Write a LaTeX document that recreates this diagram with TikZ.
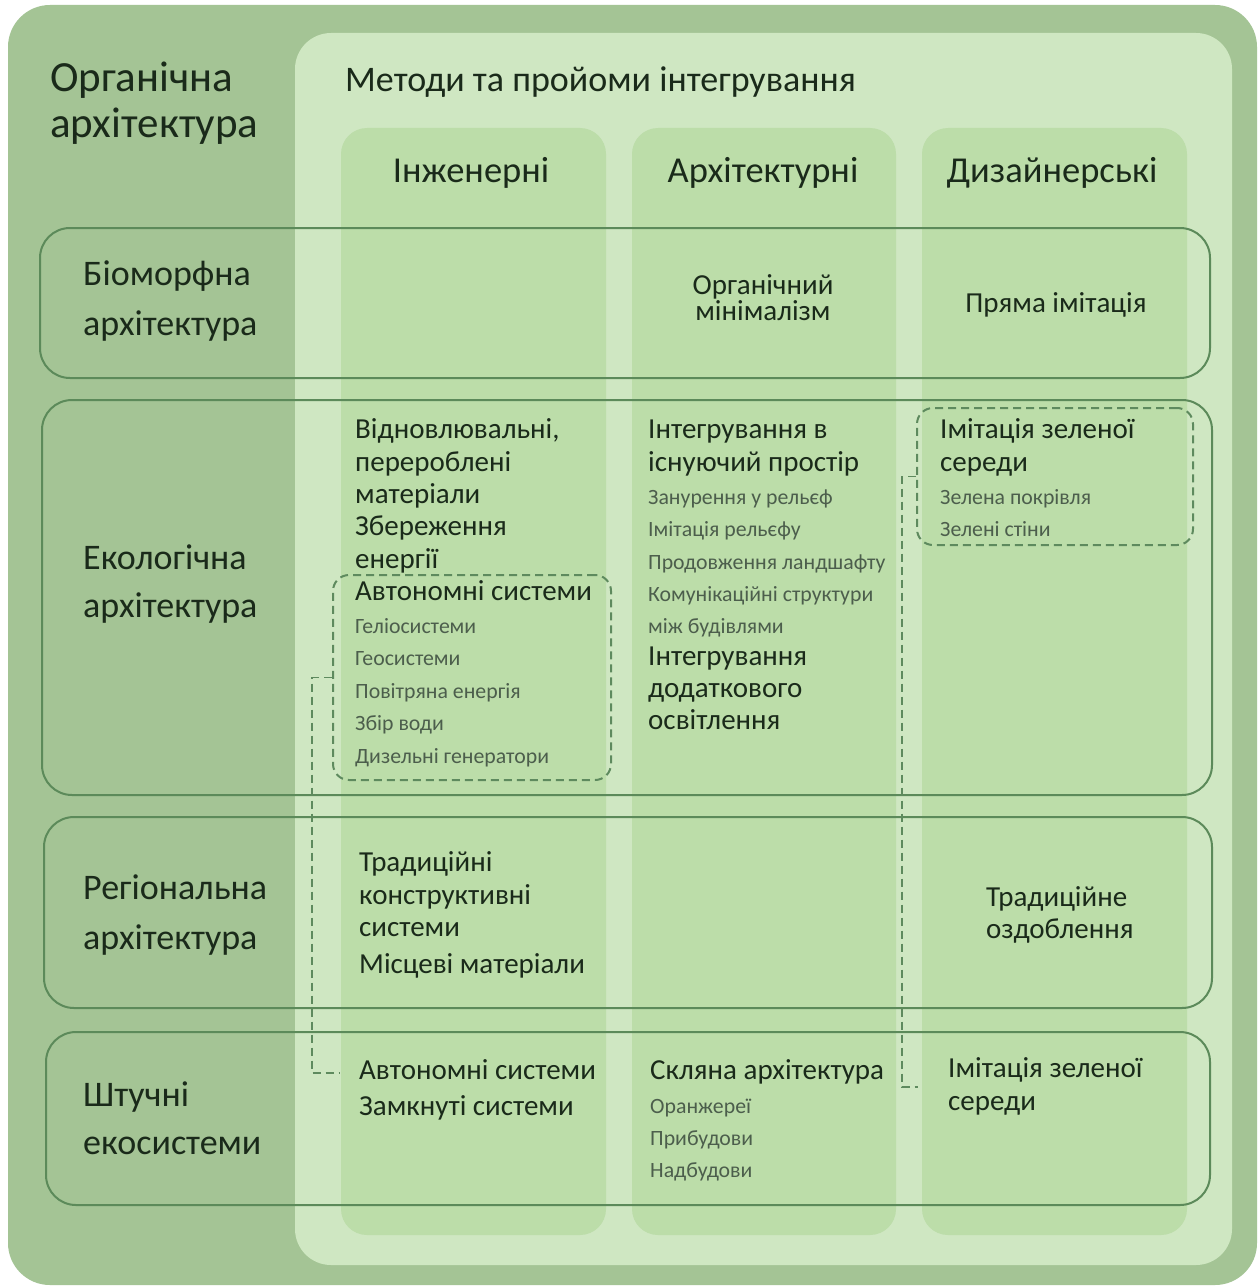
\documentclass[tikz,border=0pt]{standalone}
\usepackage{fontspec}
\setmainfont{Carlito}
\definecolor{outerg}{HTML}{A4C495}
\definecolor{innerg}{HTML}{CFE7C2}
\definecolor{colg}{HTML}{BCDDA9}
\definecolor{rowline}{HTML}{5C8A5A}
\definecolor{dashg}{HTML}{5E8A5E}
\definecolor{txt}{HTML}{1A2A1A}
\definecolor{sub}{HTML}{4C5E4C}
\tikzset{
  bigt/.style={font=\fontsize{29}{33}\selectfont, text=txt, anchor=base west, inner sep=0pt},
  smallt/.style={font=\fontsize{21.8}{25}\selectfont, text=sub, anchor=base west, inner sep=0pt},
  rowt/.style={font=\fontsize{36}{42}\selectfont, text=txt, anchor=base west, inner sep=0pt},
  headt/.style={font=\fontsize{36.5}{42}\selectfont, text=txt, anchor=base, inner sep=0pt},
  rowframe/.style={draw=rowline, line width=2pt, rounded corners=30pt},
  dbox/.style={draw=dashg, line width=2pt, dash pattern=on 8pt off 5pt, rounded corners=16pt, inner sep=0pt},
  conn/.style={draw=dashg, line width=1.8pt, dash pattern=on 8pt off 5pt},
  colbox/.style={fill=colg, rounded corners=26pt}
}
\begin{document}
\begin{tikzpicture}[x=1pt,y=-1pt]
\useasboundingbox (0,0) rectangle (1259,1287);
\fill[white] (0,0) rectangle (1259,1287);
% backgrounds
\fill[outerg, rounded corners=42pt] (8,5) rectangle (1257,1285);
\fill[innerg, rounded corners=36pt] (295,33) rectangle (1232,1265);
\fill[colbox] (341,128) rectangle (606,1235);
\fill[colbox] (632,128) rectangle (896,1235);
\fill[colbox] (922,128) rectangle (1187,1235);
% titles
\node[font=\fontsize{43}{50}\selectfont, text=txt, anchor=base west, inner sep=0pt] (t1) at (50,92) {Органічна};
\node[font=\fontsize{43}{50}\selectfont, text=txt, anchor=base west, inner sep=0pt] (t2) at (50,137) {архітектура};
\node[font=\fontsize{36}{42}\selectfont, text=txt, anchor=base west, inner sep=0pt] (t3) at (345,92) {Методи та пройоми інтегрування};
\node[headt] (h1) at (471,182) {Інженерні};
\node[headt] (h2) at (763,182) {Архітектурні};
\node[headt] (h3) at (1052,182) {Дизайнерські};
% row frames
\draw[rowframe] (40,228) rectangle (1210,378);
\draw[rowframe] (42,400) rectangle (1212,795);
\draw[rowframe] (44,817) rectangle (1212,1008);
\draw[rowframe] (46,1032) rectangle (1210,1205);
% row labels
\node[rowt] (r1a) at (83,285) {Біоморфна};
\node[rowt] (r1b) at (83,335) {архітектура};
\node[rowt] (r2a) at (83,569) {Екологічна};
\node[rowt] (r2b) at (83,617) {архітектура};
\node[rowt] (r3a) at (83,899) {Регіональна};
\node[rowt] (r3b) at (83,949) {архітектура};
\node[rowt] (r4a) at (83,1106) {Штучні};
\node[rowt] (r4b) at (83,1154) {екосистеми};
% row 1
\node[font=\fontsize{29}{22.5}\selectfont, text=txt, inner sep=0pt, align=center, anchor=base] (a1) at (763,320) {Органічний\\мінімалізм};
\node[bigt, anchor=base] (a3) at (1056,312) {Пряма імітація};
% dashed boxes
\node[dbox, minimum width=278pt, minimum height=205pt] (box1) at (472,677.5) {};
\node[dbox, minimum width=276pt, minimum height=137pt] (box2) at (1055,476.5) {};
% row 2 col 1
\node[bigt] (b1) at (355,438) {Відновлювальні,};
\node[bigt] (b2) at (355,471) {перероблені};
\node[bigt] (b3) at (355,503) {матеріали};
\node[bigt] (b4) at (355,535) {Збереження};
\node[bigt] (b5) at (355,568) {енергії};
\node[bigt] (b6) at (355,600) {Автономні системи};
\node[smallt] (b7) at (355,633) {Геліосистеми};
\node[smallt] (b8) at (355,665) {Геосистеми};
\node[smallt] (b9) at (355,698) {Повітряна енергія};
\node[smallt] (b10) at (355,730) {Збір води};
\node[smallt] (b11) at (355,763) {Дизельні генератори};
% row 2 col 2
\node[bigt] (c1) at (648,438) {Інтегрування в};
\node[bigt] (c2) at (648,471) {існуючий простір};
\node[smallt] (c3) at (648,504) {Занурення у рельєф};
\node[smallt] (c4) at (648,536) {Імітація рельєфу};
\node[smallt] (c5) at (648,569) {Продовження ландшафту};
\node[smallt] (c6) at (648,601) {Комунікаційні структури};
\node[smallt] (c7) at (648,633) {між будівлями};
\node[bigt] (c8) at (648,665) {Інтегрування};
\node[bigt] (c9) at (648,697) {додаткового};
\node[bigt] (c10) at (648,729) {освітлення};
% row 2 col 3
\node[bigt] (d1) at (940,438) {Імітація зеленої};
\node[bigt] (d2) at (940,471) {середи};
\node[smallt] (d3) at (940,504) {Зелена покрівля};
\node[smallt] (d4) at (940,536) {Зелені стіни};
% row 3
\node[bigt] (e1t) at (359,871) {Традиційні};
\node[bigt] (e2t) at (359,904) {конструктивні};
\node[bigt] (e3t) at (359,936) {системи};
\node[bigt] (e4t) at (359,973) {Місцеві матеріали};
\node[bigt] (f1) at (986,906) {Традиційне};
\node[bigt] (f2) at (986,938) {оздоблення};
% row 4
\node[bigt] (g1) at (359,1079) {Автономні системи};
\node[bigt] (g2) at (359,1115) {Замкнуті системи};
\node[bigt] (k1) at (650,1079) {Скляна архітектура};
\node[smallt] (k2) at (650,1113) {Оранжереї};
\node[smallt] (k3) at (650,1145) {Прибудови};
\node[smallt] (k4) at (650,1177) {Надбудови};
\node[bigt] (m1) at (948,1077) {Імітація зеленої};
\node[bigt] (m2) at (948,1110) {середи};
% connectors
\coordinate (end1) at (340,1073);
\coordinate (end2) at (918,1087);
\draw[conn] (box1.west) -- ++(-20,0) |- (end1);
\draw[conn] (box2.west) -- ++(-14,0) |- (end2);
\end{tikzpicture}
\end{document}
